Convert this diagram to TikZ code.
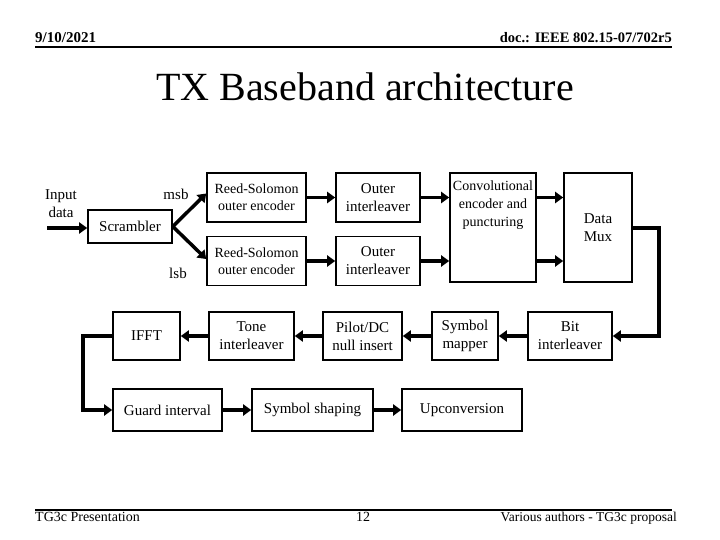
\documentclass[tikz,border=0pt]{standalone}
\usepackage{fontspec}
\setmainfont{Liberation Serif}
\usetikzlibrary{positioning, arrows.meta}

\begin{document}
\begin{tikzpicture}[x=1pt, y=-1pt,
    blk/.style={draw, line width=1.6pt, inner sep=1pt, align=center,
        font=\fontsize{15}{18}\selectfont},
    arr/.style={line width=3.5pt, -{Triangle[length=8pt, width=11pt]}},
    lbl/.style={inner sep=0pt, align=center, font=\fontsize{15}{18}\selectfont}]
    \useasboundingbox (0,0) rectangle (720,540);

    % header and footer
    \node[anchor=base west, inner sep=0pt, font=\fontsize{15}{17}\selectfont\bfseries] (date) at (35,43) {9/10/2021};
    \node[anchor=base east, inner sep=0pt, font=\fontsize{14.5}{17}\selectfont\bfseries] (doc) at (672,43) {doc.: IEEE 802.15-07/702r5};
    \coordinate (hl) at (35,47);
    \coordinate (hr) at (672,47);
    \draw[line width=2pt] (hl) -- (hr);
    \node[inner sep=0pt, font=\fontsize{40}{44}\selectfont] (title) at (365,87) {TX Baseband architecture};
    \coordinate (fl) at (35,510);
    \coordinate (fr) at (672,510);
    \draw[line width=2pt] (fl) -- (fr);
    \node[anchor=base west, inner sep=0pt, font=\fontsize{14}{16}\selectfont] (pres) at (35,521) {TG3c Presentation};
    \node[anchor=base, inner sep=0pt, font=\fontsize{14}{16}\selectfont] (page) at (363,521) {12};
    \node[anchor=base east, inner sep=0pt, font=\fontsize{13.5}{16}\selectfont] (auth) at (677,521) {Various authors - TG3c proposal};

    % upper chain
    \node[lbl] (input) at (61,204) {Input\\data};
    \coordinate (in) at (47,228);
    \node[blk, minimum width=84, minimum height=33] (scr) at (130,226.5) {Scrambler};
    \node[lbl] (msb) at (176,194) {msb};
    \node[lbl] (lsb) at (178,273) {lsb};
    \node[blk, minimum width=99, minimum height=49, font=\fontsize{14}{17}\selectfont] (rsA) at (256.5,197.5) {Reed-Solomon\\outer encoder};
    \node[blk, minimum width=99, minimum height=49, font=\fontsize{14}{17}\selectfont] (rsB) at (256.5,261) {Reed-Solomon\\outer encoder};
    \node[blk, minimum width=84, minimum height=49] (oiA) at (378,197.5) {Outer\\interleaver};
    \node[blk, minimum width=84, minimum height=49] (oiB) at (378,261) {Outer\\interleaver};
    \node[blk, minimum width=86, minimum height=109] (conv) at (493,227.5) {};
    \node[lbl, below=8pt of conv.north, font=\fontsize{14}{18}\selectfont] (convtxt) {Convolutional\\encoder and\\puncturing};
    \node[blk, minimum width=68, minimum height=109] (mux) at (598,227.5) {Data\\Mux};

    % middle chain
    \node[blk, minimum width=84, minimum height=48] (bit) at (570,336) {Bit\\interleaver};
    \node[blk, minimum width=66, minimum height=48] (map) at (465,336) {Symbol\\mapper};
    \node[blk, minimum width=79, minimum height=48] (pilot) at (362.5,336) {Pilot/DC\\null insert};
    \node[blk, minimum width=85, minimum height=48] (tone) at (251.5,336) {Tone\\interleaver};
    \node[blk, minimum width=67, minimum height=48] (ifft) at (146.5,336) {IFFT};

    % lower chain
    \node[blk, minimum width=109, minimum height=42] (guard) at (167.5,410) {Guard interval};
    \node[blk, minimum width=121, minimum height=42] (shape) at (312.5,410) {Symbol shaping};
    \node[blk, minimum width=120, minimum height=42] (upc) at (462,410) {Upconversion};

    \coordinate (muxturn) at (659,228);
    \coordinate (iffturn) at (83,336);

    \draw[arr] (in) -- (scr.west |- in);
    \draw[arr] (scr.east) -- ([yshift=4pt]rsA.west);
    \draw[arr] (scr.east) -- ([yshift=2pt]rsB.west);
    \draw[arr] (rsA) -- (oiA);
    \draw[arr] (rsB) -- (oiB);
    \draw[arr] (oiA.east) -- (oiA.east -| conv.west);
    \draw[arr] (oiB.east) -- (oiB.east -| conv.west);
    \draw[arr] (oiA.east -| conv.east) -- (oiA.east -| mux.west);
    \draw[arr] (oiB.east -| conv.east) -- (oiB.east -| mux.west);
    \draw[arr] (mux.east |- muxturn) -- (muxturn) |- (bit.east);
    \draw[arr] (bit) -- (map);
    \draw[arr] (map) -- (pilot);
    \draw[arr] (pilot) -- (tone);
    \draw[arr] (tone) -- (ifft);
    \draw[arr] (ifft.west) -- (iffturn) |- (guard.west);
    \draw[arr] (guard) -- (shape);
    \draw[arr] (shape) -- (upc);
\end{tikzpicture}
\end{document}
